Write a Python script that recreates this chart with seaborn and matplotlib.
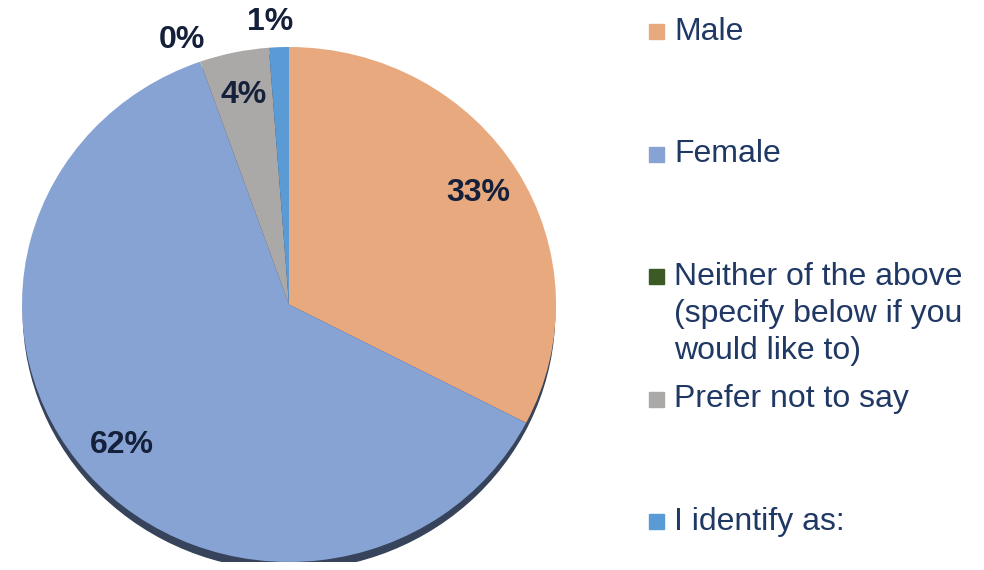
import matplotlib
matplotlib.use("Agg")
import matplotlib.pyplot as plt
from matplotlib.patches import Ellipse, Rectangle
import numpy as np
import seaborn as sns

sns.set_theme(style="white")
plt.rcParams['font.family'] = ['Liberation Sans', 'DejaVu Sans']

# survey answers (share of respondents, %)
labels = ["Male", "Female", "Neither of the above\n(specify below if you\nwould like to)",
          "Prefer not to say", "I identify as:"]
shares = [32.6, 62.0, 0.0, 4.2, 1.2]
colors = ["#E8A97E", "#87A3D4", "#3B5A25", "#ABA8A8", "#5B9BD5"]

fig = plt.figure(figsize=(9.84, 5.70), dpi=100)
ax = fig.add_axes([22 / 984, 8 / 570, 534 / 984, 515 / 570])

# dark rim under the pie
ax.add_patch(Ellipse((0, -0.03), 1.99, 2.0, color="#36435A", zorder=0))

wedges, texts, autotexts = ax.pie(
    shares, colors=colors, startangle=90, counterclock=False,
    autopct="%.0f%%", pctdistance=0.83, radius=1.0,
    wedgeprops=dict(linewidth=0),
    textprops=dict(fontsize=23, fontweight="bold", color="#15203A"),
)
for w in wedges:
    w.set_zorder(1)

# small slices get their labels outside the pie
for w, t, s in zip(wedges, autotexts, shares):
    if s < 3:
        ang = np.deg2rad((w.theta1 + w.theta2) / 2 + 1.5)
        t.set_position((1.12 * np.cos(ang), 1.1 * np.sin(ang)))
    t.set_zorder(3)

ax.set_aspect("auto")
ax.set_xlim(-1, 1)
ax.set_ylim(-1, 1)
ax.axis("off")

# legend on the right, one slot per entry
top = 1 - 31 / 570
step = 122.5 / 570
for i, (lab, col) in enumerate(zip(labels, colors)):
    y = top - i * step
    fig.patches.append(Rectangle((649 / 984, y - 8 / 570), 15 / 984, 15 / 570,
                                 transform=fig.transFigure, color=col))
    fig.text(674 / 984, y + 14 / 570, lab, ha="left", va="top", fontsize=23,
             color="#1F3864", linespacing=1.3)

fig.savefig("out.png", dpi=100)
